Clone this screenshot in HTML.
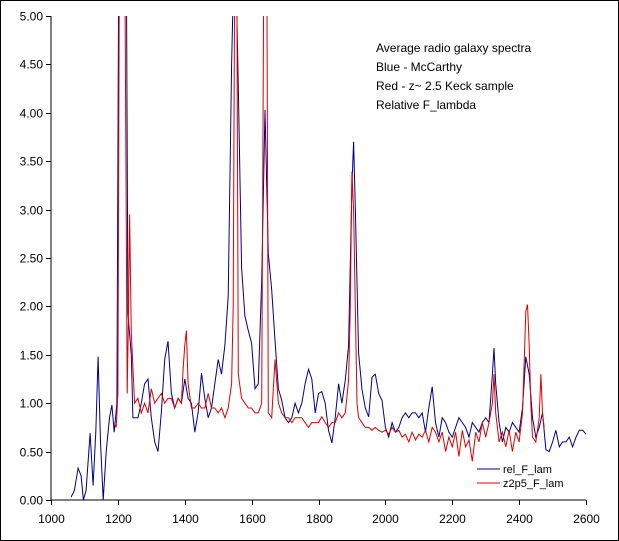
<!DOCTYPE html>
<html><head><meta charset="utf-8"><style>
body{margin:0;background:#fff}
svg{display:block;font-family:"Liberation Sans",sans-serif}
</style></head><body>
<svg width="619" height="541" viewBox="0 0 619 541">
<rect x="0.5" y="0.5" width="618" height="540" fill="#fff" stroke="#000"/>
<defs><clipPath id="pc"><rect x="51" y="16" width="540" height="484"/></clipPath></defs>
<g id="axes"></g>
<g id="series" clip-path="url(#pc)"></g>
<g font-size="12" fill="#000">
<text x="376" y="52">Average radio galaxy spectra</text>
<text x="376" y="71">Blue - McCarthy</text>
<text x="376" y="90">Red - z~ 2.5 Keck sample</text>
<text x="376" y="109">Relative F_lambda</text>
</g>
<g font-size="11">
<line x1="477" y1="469" x2="500" y2="469" stroke="#00008b"/>
<text x="503" y="473">rel_F_lam</text>
<line x1="477" y1="483" x2="500" y2="483" stroke="#e00000"/>
<text x="503" y="487">z2p5_F_lam</text>
</g>
</svg>
<script>
const xTicks=[1000,1200,1400,1600,1800,2000,2200,2400,2600];
const yTicks=[0,0.5,1,1.5,2,2.5,3,3.5,4,4.5,5];
const blueLam=[1060,1070,1081,1090,1097,1105,1117,1126,1134,1141,1148,1156,1165,1175,1182,1189,1197,1203,1210,1218,1225,1230,1240,1245,1250,1260,1270,1280,1290,1300,1310,1320,1330,1340,1350,1360,1370,1380,1390,1400,1410,1420,1430,1440,1450,1460,1470,1480,1490,1500,1510,1520,1530,1540,1550,1560,1570,1580,1590,1600,1610,1620,1630,1640,1650,1660,1670,1680,1690,1700,1710,1720,1730,1740,1750,1760,1770,1780,1790,1800,1810,1820,1830,1840,1850,1860,1870,1880,1890,1900,1905,1910,1920,1930,1940,1950,1960,1970,1980,1990,2000,2010,2020,2030,2040,2050,2060,2070,2080,2090,2100,2110,2120,2130,2140,2150,2160,2170,2180,2190,2200,2210,2220,2230,2240,2250,2260,2270,2280,2290,2300,2310,2320,2325,2330,2340,2350,2360,2370,2380,2390,2400,2410,2420,2430,2440,2450,2460,2470,2480,2490,2500,2510,2520,2530,2540,2550,2560,2570,2580,2590,2600];
const blueVal=[0.03,0.1,0.33,0.25,0,0.1,0.69,0.15,0.7,1.48,0.6,0,0.5,0.85,0.98,0.7,1.0,6,6,6,6,1.93,1.5,0.85,0.85,0.85,1.0,1.2,1.25,0.85,0.6,0.5,0.9,1.45,1.64,1.1,0.95,1.05,1.0,1.25,1.05,1.0,0.7,0.9,1.31,1.05,0.85,0.95,1.2,1.45,1.3,1.6,2.1,4.5,6,4.27,2.4,1.9,1.75,1.62,1.15,1.2,2.27,4.03,2.55,2.17,1.65,1.15,1.03,0.85,0.8,0.85,1.0,0.9,1.0,1.2,1.35,1.25,0.9,1.1,1.12,1.0,0.72,0.59,0.85,1.2,1.0,1.24,1.6,3.24,3.7,3.03,1.52,1.14,0.95,0.86,1.27,1.3,1.1,1.03,0.75,0.65,0.8,0.7,0.75,0.85,0.9,0.85,0.9,0.9,0.85,0.9,0.7,0.95,1.17,0.8,0.65,0.85,0.8,0.7,0.65,0.75,0.85,0.8,0.75,0.65,0.8,0.75,0.7,0.8,0.85,0.8,1.3,1.57,1.2,0.8,0.6,0.75,0.7,0.8,0.75,0.7,0.95,1.48,1.3,0.85,0.65,0.75,0.9,0.52,0.5,0.6,0.72,0.55,0.6,0.6,0.65,0.55,0.65,0.72,0.72,0.68];
const redLam=[1190,1195,1200,1205,1210,1220,1228,1232,1235,1240,1250,1260,1270,1280,1290,1300,1310,1320,1330,1340,1350,1360,1370,1380,1390,1395,1400,1405,1410,1420,1430,1440,1450,1460,1470,1480,1490,1500,1510,1520,1530,1540,1545,1550,1555,1560,1570,1580,1590,1600,1610,1620,1630,1637,1645,1650,1660,1670,1680,1690,1700,1710,1720,1730,1740,1750,1760,1770,1780,1790,1800,1810,1820,1830,1840,1850,1860,1870,1880,1890,1895,1900,1905,1910,1915,1920,1930,1940,1950,1960,1970,1980,1990,2000,2010,2020,2030,2040,2050,2060,2070,2080,2090,2100,2110,2120,2130,2140,2150,2160,2170,2180,2190,2200,2210,2220,2230,2240,2250,2260,2270,2280,2290,2300,2310,2320,2325,2330,2340,2350,2360,2370,2380,2390,2400,2410,2415,2420,2425,2430,2435,2440,2450,2460,2465,2470,2475];
const redVal=[0.8,0.75,1.1,6,6,6,1.1,2.0,2.95,1.72,1.0,1.05,0.9,1.0,0.9,1.15,1.0,1.05,1.1,1.0,1.05,1.05,0.95,1.05,1.0,1.35,1.6,1.75,1.2,0.95,0.95,1.0,0.95,0.95,1.1,0.95,0.95,0.9,0.95,0.85,0.95,1.2,2.0,6,6,1.3,1.05,1.0,0.95,0.95,0.9,0.9,1.0,6,6,0.9,0.85,1.45,1.0,0.9,0.85,0.85,0.8,0.85,0.85,0.85,0.8,0.75,0.8,0.8,0.8,0.86,0.8,0.75,0.8,0.8,0.9,0.85,0.9,1.24,2.0,3.39,3.0,2.0,1.0,0.85,0.8,0.75,0.75,0.72,0.75,0.72,0.7,0.72,0.68,0.75,0.7,0.72,0.65,0.68,0.6,0.7,0.62,0.68,0.65,0.72,0.6,0.75,0.7,0.6,0.7,0.5,0.65,0.55,0.7,0.45,0.72,0.55,0.62,0.4,0.7,0.6,0.8,0.65,0.8,1.0,1.3,0.9,0.6,0.7,0.55,0.72,0.5,0.7,0.6,0.9,1.4,1.95,2.02,1.6,1.0,0.65,0.6,0.85,1.3,0.9,0.75];
const X0=51,X1=586,Y0=500,Y1=16;
const sx=v=>X0+(v-1000)/1600*(X1-X0);
const sy=v=>Y0-v/5*(Y0-Y1);
const NS='http://www.w3.org/2000/svg';
const ax=document.getElementById('axes'),sg=document.getElementById('series');
function mk(t,a,p){const e=document.createElementNS(NS,t);for(const k in a)e.setAttribute(k,a[k]);p.appendChild(e);return e;}
const yl=mk('line',{x1:X0,y1:Y1,x2:X0,y2:Y0,stroke:'#000'},ax);


const xl=mk('line',{x1:X0,y1:Y0,x2:X1,y2:Y0,stroke:'#000'},ax);


xTicks.forEach(v=>{const x=Math.round(sx(v))+0.5;
mk('line',{x1:x,y1:Y0,x2:x,y2:Y0+5,stroke:'#000'},ax);
const t=mk('text',{x:x,y:Y0+23,'text-anchor':'middle','font-size':'12'},ax);t.textContent=v;

});
yTicks.forEach(v=>{const y=Math.round(sy(v))+0.5;
mk('line',{x1:X0-5,y1:y,x2:X0,y2:y,stroke:'#000'},ax);
const t=mk('text',{x:43,y:y+4,'text-anchor':'end','font-size':'12'},ax);t.textContent=v.toFixed(2);

});
function line(L,V,c,n){const p=mk('polyline',{points:L.map((l,i)=>sx(l).toFixed(1)+','+sy(V[i]).toFixed(1)).join(' '),fill:'none',stroke:c,'stroke-width':'1'},sg);

}
line(blueLam,blueVal,'#00008b','series-rel-f-lam');
line(redLam,redVal,'#e00000','series-z2p5-f-lam');
</script>
</body></html>
